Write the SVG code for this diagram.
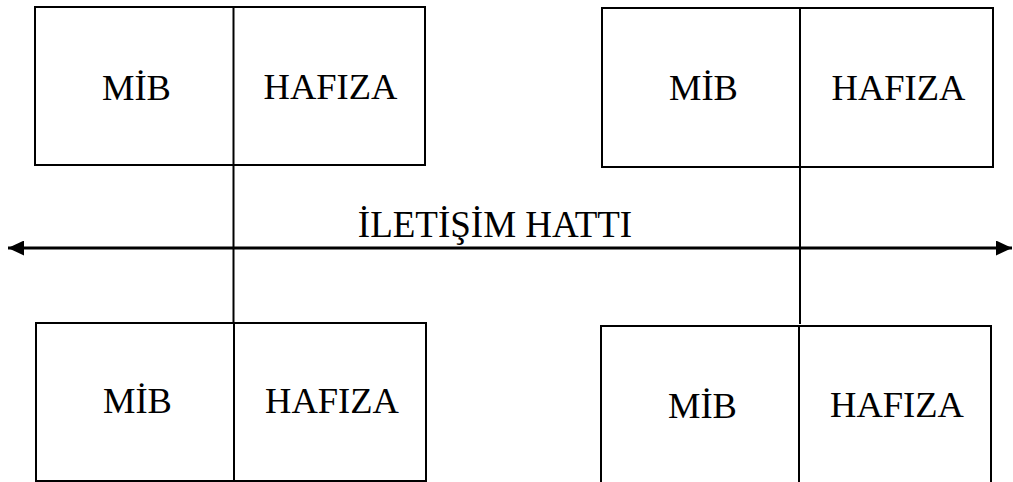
<svg xmlns="http://www.w3.org/2000/svg" width="1013" height="482" viewBox="0 0 1013 482">
<style>
.box{fill:#fff;stroke:#000;stroke-width:2}
.ln{stroke:#000;stroke-width:2;fill:none}
.t{font-family:"Liberation Serif","Times New Roman",serif;font-size:36.5px;fill:#000;text-anchor:middle}
.title{font-size:37px}
</style>
<defs>
<marker id="ah" viewBox="0 0 16 15" refX="16" refY="7.5" markerWidth="16" markerHeight="15" markerUnits="userSpaceOnUse" orient="auto-start-reverse">
<path d="M0,0 L16,7.5 L0,15 Z" fill="#000"/>
</marker>
</defs>
<rect width="1013" height="482" fill="#fff"/>
<g id="connectors">
<line class="ln" x1="233.5" y1="165" x2="233.5" y2="323"/>
<line class="ln" x1="800" y1="167" x2="800" y2="324"/>
<line x1="8" y1="248" x2="1012" y2="248" stroke="#000" stroke-width="3" marker-start="url(#ah)" marker-end="url(#ah)"/>
<text class="t title" x="495" y="237">İLETİŞİM HATTI</text>
</g>
<g id="node-top-left">
<rect class="box" x="35" y="7" width="390" height="158"/>
<line class="ln" x1="233.5" y1="7" x2="233.5" y2="165"/>
<text class="t" x="136.5" y="100">MİB</text>
<text class="t" x="330.5" y="99">HAFIZA</text>
</g>
<g id="node-top-right">
<rect class="box" x="602" y="8" width="391" height="159"/>
<line class="ln" x1="800" y1="8" x2="800" y2="167"/>
<text class="t" x="703.5" y="100">MİB</text>
<text class="t" x="898.5" y="100">HAFIZA</text>
</g>
<g id="node-bottom-left">
<rect class="box" x="36" y="323" width="390" height="158"/>
<line class="ln" x1="234" y1="323" x2="234" y2="481"/>
<text class="t" x="137.5" y="413">MİB</text>
<text class="t" x="332" y="413">HAFIZA</text>
</g>
<g id="node-bottom-right">
<path class="ln" d="M601,483 V326 H991 V483"/>
<line class="ln" x1="799" y1="326" x2="799" y2="483"/>
<text class="t" x="702.5" y="418">MİB</text>
<text class="t" x="897" y="417">HAFIZA</text>
</g>
</svg>
